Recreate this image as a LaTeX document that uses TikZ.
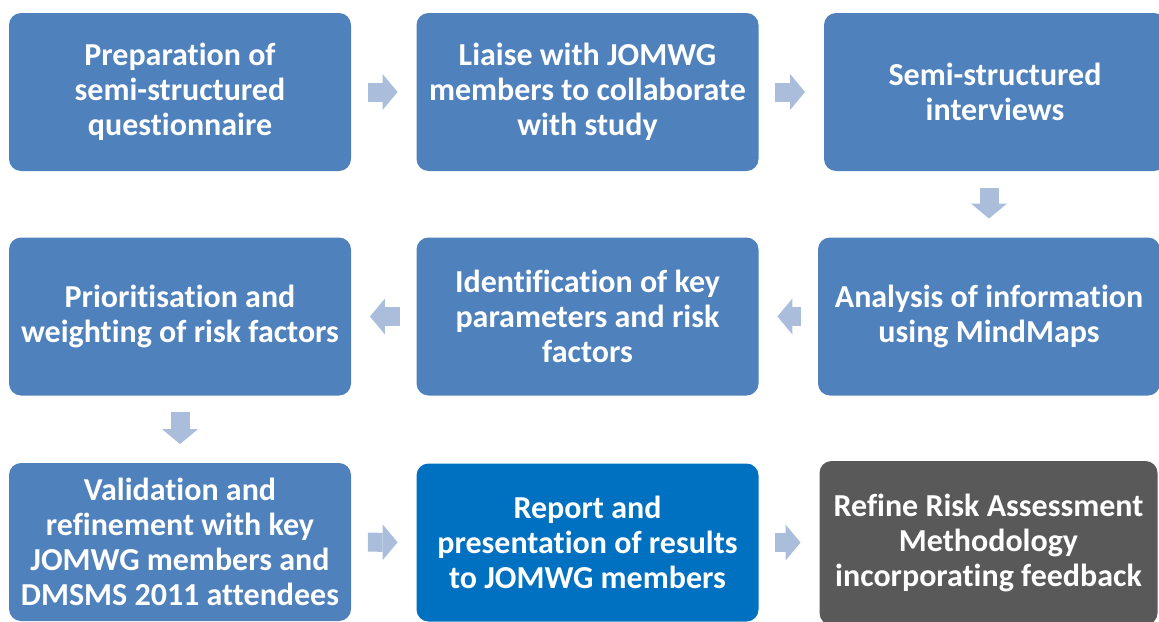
\documentclass[tikz,border=0pt]{standalone}
\usepackage{fontspec}
\setmainfont{Carlito}[Ligatures=NoCommon]
\usetikzlibrary{arrows.meta}
\definecolor{boxblue}{HTML}{4F81BD}
\definecolor{repblue}{HTML}{0070C0}
\definecolor{refgray}{HTML}{595959}
\definecolor{arrblue}{HTML}{AABEDC}
\begin{document}
\begin{tikzpicture}[x=0.75pt,y=-0.75pt,line join=round,
	font=\bfseries\fontsize{24}{26.25}\selectfont,
	stepbox/.style={fill=boxblue,text=white,rounded corners=9pt,align=center,
		inner sep=0pt,minimum width=256.5pt,minimum height=118.5pt},
	flow/.style={draw=arrblue,line width=14.25pt,shorten <=12.5pt,shorten >=14pt,
		-{Triangle[length=11.25pt,width=27pt,line width=0pt]}}]
	\useasboundingbox (0,0) rectangle (1159,621);
	% first row
	\node[stepbox] (prep) at (180,92) {Preparation of\\semi-structured\\questionnaire};
	\node[stepbox] (liaise) at (587.5,92) {Liaise with JOMWG\\members to collaborate\\with study};
	\node[stepbox] (interv) at (995,92) {Semi-structured\\interviews};
	% second row
	\node[stepbox] (prior) at (180,316.5) {Prioritisation and\\weighting of risk factors};
	\node[stepbox] (ident) at (587.5,316.5) {Identification of key\\parameters and risk\\factors};
	\node[stepbox] (anal) at (989,316.5) {Analysis of information\\using MindMaps};
	% third row
	\node[stepbox] (valid) at (180,542) {Validation and\\refinement with key\\JOMWG members and\\DMSMS 2011 attendees};
	\node[stepbox,fill=repblue] (report) at (587.5,542.5) {Report and\\presentation of results\\to JOMWG members};
	\node[stepbox,fill=refgray,minimum width=253.5pt,minimum height=123pt] (refine) at (988.5,543)
		{Refine Risk Assessment\\Methodology\\incorporating feedback};
	% arrows
	\draw[flow] (prep) -- (liaise);
	\draw[flow] (liaise) -- (interv);
	\draw[flow] (interv.south -| anal.north) -- (anal.north);
	\draw[flow] (anal) -- (ident);
	\draw[flow] (ident) -- (prior);
	\draw[flow] (prior) -- (valid);
	\draw[flow] (valid) -- (report);
	\draw[flow] (report.east) -- (report.east -| refine.west);
\end{tikzpicture}
\end{document}
